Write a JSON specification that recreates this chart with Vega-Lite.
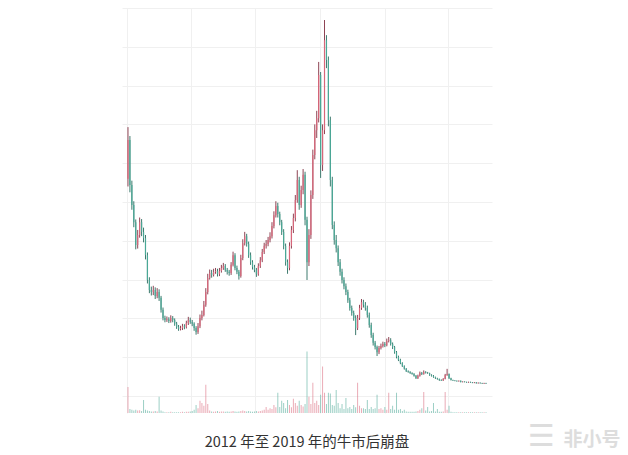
{
  "$schema": "https://vega.github.io/schema/vega-lite/v6.json",
  "width": 370,
  "height": 405,
  "autosize": {"type": "none"},
  "padding": {"left": 122, "top": 8, "right": 136, "bottom": 42},
  "background": "white",
  "config": {"view": {"stroke": null}, "font": "Noto Sans CJK SC"},
  "datasets": {
    "k": [
      {"w":1,"o":56.0,"h":69.3,"l":54.0,"c":66.0,"v":64},
      {"w":3,"o":66.0,"h":67.0,"l":52.5,"c":54.4,"v":10},
      {"w":5,"o":54.4,"h":55.5,"l":48.0,"c":49.2,"v":8},
      {"w":7,"o":49.2,"h":50.2,"l":43.5,"c":44.8,"v":6},
      {"w":9,"o":44.8,"h":45.5,"l":37.8,"c":38.9,"v":8},
      {"w":11,"o":38.9,"h":42.8,"l":38.0,"c":41.5,"v":6},
      {"w":13,"o":41.5,"h":46.0,"l":40.8,"c":44.8,"v":7},
      {"w":15,"o":44.8,"h":45.6,"l":41.2,"c":42.3,"v":5},
      {"w":17,"o":42.3,"h":43.4,"l":39.6,"c":40.7,"v":32},
      {"w":19,"o":40.7,"h":41.5,"l":35.2,"c":36.3,"v":8},
      {"w":21,"o":36.3,"h":37.0,"l":29.0,"c":29.9,"v":6},
      {"w":23,"o":29.9,"h":30.6,"l":26.5,"c":27.3,"v":5},
      {"w":25,"o":27.3,"h":28.2,"l":25.9,"c":26.8,"v":4},
      {"w":27,"o":26.8,"h":28.4,"l":26.0,"c":27.3,"v":4},
      {"w":29,"o":27.3,"h":28.0,"l":25.0,"c":25.8,"v":5},
      {"w":31,"o":25.8,"h":27.8,"l":25.2,"c":26.8,"v":4},
      {"w":33,"o":26.8,"h":27.5,"l":24.5,"c":25.3,"v":40},
      {"w":35,"o":25.3,"h":25.8,"l":21.5,"c":22.2,"v":6},
      {"w":37,"o":22.2,"h":22.8,"l":19.5,"c":20.1,"v":4},
      {"w":39,"o":20.1,"h":20.7,"l":19.0,"c":19.6,"v":2},
      {"w":41,"o":19.6,"h":20.5,"l":19.1,"c":19.8,"v":2},
      {"w":43,"o":19.8,"h":20.3,"l":18.8,"c":19.3,"v":2},
      {"w":45,"o":19.3,"h":20.8,"l":18.9,"c":20.1,"v":3},
      {"w":47,"o":20.1,"h":20.6,"l":19.0,"c":19.6,"v":2},
      {"w":49,"o":19.6,"h":20.0,"l":18.1,"c":18.6,"v":2},
      {"w":51,"o":18.6,"h":19.1,"l":17.3,"c":17.8,"v":2},
      {"w":53,"o":17.8,"h":18.3,"l":16.8,"c":17.3,"v":2},
      {"w":55,"o":17.3,"h":18.1,"l":16.9,"c":17.5,"v":2},
      {"w":57,"o":17.5,"h":18.6,"l":17.0,"c":18.0,"v":3},
      {"w":59,"o":18.0,"h":18.5,"l":17.2,"c":17.8,"v":2},
      {"w":61,"o":17.8,"h":19.4,"l":17.4,"c":18.8,"v":3},
      {"w":63,"o":18.8,"h":20.4,"l":18.3,"c":19.6,"v":3},
      {"w":65,"o":19.6,"h":20.2,"l":18.6,"c":19.1,"v":4},
      {"w":67,"o":19.1,"h":19.6,"l":18.0,"c":18.6,"v":5},
      {"w":69,"o":18.6,"h":19.0,"l":16.8,"c":17.5,"v":8},
      {"w":71,"o":17.5,"h":18.0,"l":15.8,"c":16.5,"v":20},
      {"w":73,"o":16.5,"h":18.8,"l":16.0,"c":18.0,"v":12},
      {"w":75,"o":18.0,"h":21.0,"l":17.5,"c":20.1,"v":30},
      {"w":77,"o":20.1,"h":22.0,"l":19.5,"c":20.9,"v":25},
      {"w":79,"o":20.9,"h":24.5,"l":20.5,"c":23.5,"v":18},
      {"w":81,"o":23.5,"h":27.8,"l":23.0,"c":26.8,"v":70},
      {"w":83,"o":26.8,"h":31.5,"l":26.2,"c":30.4,"v":22},
      {"w":85,"o":30.4,"h":32.6,"l":30.0,"c":31.7,"v":6},
      {"w":87,"o":31.7,"h":32.5,"l":30.5,"c":31.2,"v":4},
      {"w":89,"o":31.2,"h":32.8,"l":30.8,"c":32.0,"v":3},
      {"w":91,"o":32.0,"h":33.0,"l":31.5,"c":32.2,"v":4},
      {"w":93,"o":32.2,"h":32.8,"l":30.8,"c":31.4,"v":5},
      {"w":95,"o":31.4,"h":33.0,"l":30.9,"c":32.2,"v":3},
      {"w":97,"o":32.2,"h":33.8,"l":31.8,"c":33.0,"v":4},
      {"w":99,"o":33.0,"h":34.3,"l":32.5,"c":33.5,"v":4},
      {"w":101,"o":33.5,"h":34.0,"l":32.0,"c":32.5,"v":3},
      {"w":103,"o":32.5,"h":33.0,"l":31.3,"c":32.0,"v":4},
      {"w":105,"o":32.0,"h":32.5,"l":31.0,"c":31.7,"v":3},
      {"w":107,"o":31.7,"h":34.5,"l":31.2,"c":33.8,"v":4},
      {"w":109,"o":33.8,"h":37.2,"l":33.4,"c":36.3,"v":5},
      {"w":111,"o":36.3,"h":36.8,"l":32.4,"c":33.0,"v":4},
      {"w":113,"o":33.0,"h":33.6,"l":31.4,"c":32.0,"v":3},
      {"w":115,"o":32.0,"h":32.5,"l":30.0,"c":30.9,"v":4},
      {"w":117,"o":30.9,"h":36.4,"l":30.5,"c":35.6,"v":5},
      {"w":119,"o":35.6,"h":40.4,"l":35.0,"c":39.4,"v":6},
      {"w":121,"o":39.4,"h":42.3,"l":38.8,"c":41.2,"v":5},
      {"w":123,"o":41.2,"h":41.8,"l":38.5,"c":39.2,"v":4},
      {"w":125,"o":39.2,"h":39.8,"l":35.6,"c":36.3,"v":5},
      {"w":127,"o":36.3,"h":37.0,"l":33.8,"c":34.5,"v":4},
      {"w":129,"o":34.5,"h":35.0,"l":32.6,"c":33.2,"v":3},
      {"w":131,"o":33.2,"h":33.8,"l":31.9,"c":32.5,"v":4},
      {"w":133,"o":32.5,"h":33.0,"l":30.7,"c":31.4,"v":5},
      {"w":135,"o":31.4,"h":34.2,"l":31.0,"c":33.5,"v":4},
      {"w":137,"o":33.5,"h":35.8,"l":33.0,"c":35.0,"v":5},
      {"w":139,"o":35.0,"h":37.9,"l":34.5,"c":37.1,"v":6},
      {"w":141,"o":37.1,"h":39.5,"l":36.6,"c":38.7,"v":8},
      {"w":143,"o":38.7,"h":40.2,"l":38.0,"c":39.2,"v":15},
      {"w":145,"o":39.2,"h":41.0,"l":38.6,"c":40.2,"v":8},
      {"w":147,"o":40.2,"h":42.2,"l":39.6,"c":41.2,"v":12},
      {"w":149,"o":41.2,"h":44.8,"l":40.6,"c":43.8,"v":10},
      {"w":151,"o":43.8,"h":47.6,"l":43.2,"c":46.6,"v":20},
      {"w":153,"o":46.6,"h":50.2,"l":46.0,"c":49.0,"v":14},
      {"w":155,"o":49.0,"h":49.8,"l":46.0,"c":46.9,"v":50},
      {"w":157,"o":46.9,"h":47.5,"l":44.0,"c":44.8,"v":15},
      {"w":159,"o":44.8,"h":45.4,"l":41.5,"c":42.3,"v":30},
      {"w":161,"o":42.3,"h":43.0,"l":37.8,"c":38.7,"v":25},
      {"w":163,"o":38.7,"h":39.3,"l":33.6,"c":34.5,"v":12},
      {"w":165,"o":34.5,"h":35.2,"l":31.5,"c":33.0,"v":32},
      {"w":167,"o":33.0,"h":39.6,"l":32.4,"c":38.7,"v":20},
      {"w":169,"o":38.7,"h":43.8,"l":38.0,"c":42.8,"v":14},
      {"w":171,"o":42.8,"h":47.0,"l":42.0,"c":45.9,"v":35},
      {"w":173,"o":45.9,"h":51.8,"l":45.0,"c":50.5,"v":25},
      {"w":175,"o":50.5,"h":58.2,"l":49.8,"c":55.7,"v":18},
      {"w":177,"o":55.7,"h":56.5,"l":48.0,"c":49.2,"v":30},
      {"w":179,"o":49.2,"h":54.2,"l":48.5,"c":53.1,"v":20},
      {"w":181,"o":53.1,"h":58.5,"l":52.0,"c":57.0,"v":16},
      {"w":183,"o":57.0,"h":57.8,"l":44.0,"c":45.4,"v":22},
      {"w":185,"o":45.4,"h":46.2,"l":29.9,"c":34.5,"v":152},
      {"w":187,"o":34.5,"h":43.0,"l":33.5,"c":41.5,"v":40},
      {"w":189,"o":41.5,"h":53.0,"l":40.5,"c":51.8,"v":22},
      {"w":191,"o":51.8,"h":63.5,"l":50.8,"c":62.1,"v":75},
      {"w":193,"o":62.1,"h":70.0,"l":61.0,"c":68.5,"v":25},
      {"w":195,"o":68.5,"h":73.5,"l":66.5,"c":71.6,"v":30},
      {"w":197,"o":71.6,"h":86.1,"l":70.5,"c":82.7,"v":20},
      {"w":199,"o":82.7,"h":83.5,"l":56.2,"c":59.5,"v":45},
      {"w":201,"o":59.5,"h":70.0,"l":58.0,"c":68.5,"v":115},
      {"w":203,"o":68.5,"h":96.9,"l":67.5,"c":91.7,"v":50},
      {"w":205,"o":91.7,"h":93.0,"l":84.5,"c":86.6,"v":22},
      {"w":207,"o":86.6,"h":87.5,"l":69.5,"c":71.1,"v":50},
      {"w":209,"o":71.1,"h":72.0,"l":54.0,"c":55.7,"v":48},
      {"w":211,"o":55.7,"h":56.5,"l":43.0,"c":44.1,"v":20},
      {"w":213,"o":44.1,"h":45.0,"l":39.0,"c":40.2,"v":18},
      {"w":215,"o":40.2,"h":41.5,"l":37.0,"c":38.1,"v":57},
      {"w":217,"o":38.1,"h":38.8,"l":33.5,"c":34.5,"v":25},
      {"w":219,"o":34.5,"h":35.3,"l":31.0,"c":32.0,"v":12},
      {"w":221,"o":32.0,"h":32.8,"l":29.0,"c":29.9,"v":22},
      {"w":223,"o":29.9,"h":30.6,"l":27.5,"c":28.3,"v":10},
      {"w":225,"o":28.3,"h":29.0,"l":26.0,"c":26.8,"v":37},
      {"w":227,"o":26.8,"h":27.4,"l":24.0,"c":24.7,"v":12},
      {"w":229,"o":24.7,"h":25.3,"l":22.0,"c":22.7,"v":15},
      {"w":231,"o":22.7,"h":23.3,"l":20.7,"c":21.4,"v":10},
      {"w":233,"o":21.4,"h":22.0,"l":19.4,"c":20.1,"v":20},
      {"w":235,"o":20.1,"h":20.8,"l":15.7,"c":17.5,"v":14},
      {"w":237,"o":17.5,"h":20.9,"l":17.0,"c":20.1,"v":75},
      {"w":239,"o":20.1,"h":23.5,"l":19.6,"c":22.7,"v":18},
      {"w":241,"o":22.7,"h":25.0,"l":22.2,"c":24.2,"v":12},
      {"w":243,"o":24.2,"h":24.8,"l":22.8,"c":23.5,"v":12},
      {"w":245,"o":23.5,"h":24.2,"l":22.0,"c":22.7,"v":10},
      {"w":247,"o":22.7,"h":23.3,"l":20.2,"c":20.9,"v":32},
      {"w":249,"o":20.9,"h":21.5,"l":17.6,"c":18.3,"v":10},
      {"w":251,"o":18.3,"h":18.9,"l":15.0,"c":15.7,"v":15},
      {"w":253,"o":15.7,"h":16.3,"l":13.0,"c":13.7,"v":10},
      {"w":255,"o":13.7,"h":14.2,"l":12.0,"c":12.6,"v":12},
      {"w":257,"o":12.6,"h":13.0,"l":10.3,"c":11.3,"v":45},
      {"w":259,"o":11.3,"h":12.9,"l":10.8,"c":12.4,"v":10},
      {"w":261,"o":12.4,"h":13.5,"l":12.0,"c":12.9,"v":12},
      {"w":263,"o":12.9,"h":14.0,"l":12.5,"c":13.4,"v":8},
      {"w":265,"o":13.4,"h":13.9,"l":12.6,"c":13.1,"v":15},
      {"w":267,"o":13.1,"h":14.8,"l":12.8,"c":14.2,"v":8},
      {"w":269,"o":14.2,"h":15.2,"l":13.8,"c":14.4,"v":50},
      {"w":271,"o":14.4,"h":14.9,"l":13.0,"c":13.4,"v":10},
      {"w":273,"o":13.4,"h":13.8,"l":12.1,"c":12.6,"v":18},
      {"w":275,"o":12.6,"h":12.9,"l":10.9,"c":11.3,"v":8},
      {"w":277,"o":11.3,"h":11.6,"l":9.7,"c":10.1,"v":50},
      {"w":279,"o":10.1,"h":10.4,"l":9.0,"c":9.3,"v":8},
      {"w":281,"o":9.3,"h":9.6,"l":8.2,"c":8.5,"v":10},
      {"w":283,"o":8.5,"h":8.7,"l":7.5,"c":7.7,"v":5},
      {"w":285,"o":7.7,"h":7.9,"l":6.8,"c":7.0,"v":8},
      {"w":287,"o":7.0,"h":7.2,"l":6.2,"c":6.4,"v":4},
      {"w":289,"o":6.4,"h":6.6,"l":6.0,"c":6.2,"v":3},
      {"w":291,"o":6.2,"h":6.4,"l":5.7,"c":5.9,"v":3},
      {"w":293,"o":5.9,"h":6.1,"l":5.5,"c":5.7,"v":3},
      {"w":295,"o":5.7,"h":5.9,"l":5.0,"c":5.2,"v":3},
      {"w":297,"o":5.2,"h":5.4,"l":4.4,"c":4.6,"v":4},
      {"w":299,"o":4.6,"h":5.5,"l":4.4,"c":5.2,"v":5},
      {"w":301,"o":5.2,"h":6.3,"l":5.0,"c":5.9,"v":8},
      {"w":303,"o":5.9,"h":6.2,"l":5.4,"c":5.7,"v":12},
      {"w":305,"o":5.7,"h":6.6,"l":5.5,"c":6.2,"v":52},
      {"w":307,"o":6.2,"h":6.4,"l":5.8,"c":6.0,"v":6},
      {"w":309,"o":6.0,"h":6.2,"l":5.7,"c":5.9,"v":15},
      {"w":311,"o":5.9,"h":6.0,"l":5.2,"c":5.4,"v":4},
      {"w":313,"o":5.4,"h":5.6,"l":5.0,"c":5.2,"v":5},
      {"w":315,"o":5.2,"h":5.4,"l":4.7,"c":4.9,"v":25},
      {"w":317,"o":4.9,"h":5.0,"l":4.4,"c":4.6,"v":4},
      {"w":319,"o":4.6,"h":4.7,"l":4.2,"c":4.4,"v":10},
      {"w":321,"o":4.4,"h":4.5,"l":3.9,"c":4.1,"v":3},
      {"w":323,"o":4.1,"h":4.3,"l":3.9,"c":4.0,"v":3},
      {"w":325,"o":4.0,"h":4.6,"l":3.9,"c":4.4,"v":4},
      {"w":327,"o":4.4,"h":5.7,"l":4.3,"c":5.4,"v":52},
      {"w":329,"o":5.4,"h":7.0,"l":5.2,"c":5.7,"v":8},
      {"w":331,"o":5.7,"h":5.8,"l":4.4,"c":4.6,"v":18},
      {"w":333,"o":4.6,"h":4.7,"l":4.0,"c":4.1,"v":3},
      {"w":335,"o":4.1,"h":4.2,"l":3.9,"c":4.0,"v":2},
      {"w":337,"o":4.0,"h":4.1,"l":3.8,"c":3.9,"v":2},
      {"w":339,"o":3.9,"h":4.0,"l":3.7,"c":3.8,"v":2},
      {"w":341,"o":3.8,"h":4.0,"l":3.7,"c":3.9,"v":2},
      {"w":343,"o":3.9,"h":4.0,"l":3.5,"c":3.6,"v":2},
      {"w":345,"o":3.6,"h":3.8,"l":3.5,"c":3.7,"v":2},
      {"w":347,"o":3.7,"h":3.8,"l":3.5,"c":3.6,"v":2},
      {"w":349,"o":3.6,"h":3.7,"l":3.4,"c":3.5,"v":2},
      {"w":351,"o":3.5,"h":3.7,"l":3.4,"c":3.6,"v":2},
      {"w":353,"o":3.6,"h":3.7,"l":3.4,"c":3.5,"v":2},
      {"w":355,"o":3.5,"h":3.6,"l":3.3,"c":3.4,"v":2},
      {"w":357,"o":3.4,"h":3.6,"l":3.3,"c":3.5,"v":2},
      {"w":359,"o":3.5,"h":3.6,"l":3.2,"c":3.3,"v":2},
      {"w":361,"o":3.3,"h":3.5,"l":3.2,"c":3.4,"v":2},
      {"w":363,"o":3.4,"h":3.5,"l":3.2,"c":3.3,"v":2},
      {"w":365,"o":3.3,"h":3.4,"l":3.1,"c":3.2,"v":2},
      {"w":367,"o":3.2,"h":3.4,"l":3.1,"c":3.3,"v":2},
      {"w":369,"o":3.3,"h":3.4,"l":3.1,"c":3.2,"v":2}
    ]
  },
  "data": {"name": "k"},
  "encoding": {
    "x": {
      "field": "w",
      "type": "quantitative",
      "scale": {"domain": [0, 370], "nice": false, "zero": false},
      "axis": {"grid": true, "values": [0, 66, 132, 198, 265, 330], "labels": false, "ticks": false, "domain": false, "title": null, "gridColor": "#f0f0f0", "gridWidth": 1}
    },
    "color": {
      "condition": {"test": "datum.c >= datum.o", "value": "#d8667a"},
      "value": "#4aa896"
    }
  },
  "layer": [
    {
      "encoding": {
        "y": {
          "type": "quantitative",
          "scale": {"domain": [-4.38, 100], "nice": false, "zero": false},
          "axis": {"grid": true, "values": [0, 10, 20, 30, 40, 50, 60, 70, 80, 90, 100], "labels": false, "ticks": false, "domain": false, "title": null, "gridColor": "#f0f0f0", "gridWidth": 1}
        }
      },
      "layer": [
        {
          "mark": {"type": "rule", "strokeWidth": 1},
          "encoding": {
            "y": {"field": "l", "type": "quantitative"},
            "y2": {"field": "h"},
            "color": {
              "condition": {"test": "datum.c >= datum.o", "value": "#8e4454"},
              "value": "#3d7a6e"
            }
          }
        },
        {
          "mark": {"type": "bar", "orient": "vertical", "size": 1.2},
          "encoding": {
            "y": {"field": "o", "type": "quantitative"},
            "y2": {"field": "c"}
          }
        },
        {
          "data": {"values": [{"label": "2012 年至 2019 年的牛市后崩盘", "w": 185, "p": -13.1}]},
          "mark": {"type": "text", "fontSize": 14.5, "align": "center", "baseline": "alphabetic", "font": "Noto Sans CJK SC"},
          "encoding": {
            "y": {"field": "p", "type": "quantitative"},
            "text": {"field": "label"},
            "color": {"value": "#333333"}
          }
        },
        {
          "data": {"values": [{"label": "非小号", "w": 478, "p": -12.9}]},
          "mark": {"type": "text", "fontSize": 19, "fontWeight": "bold", "align": "center", "baseline": "alphabetic", "font": "Noto Sans CJK SC"},
          "encoding": {
            "y": {"field": "p", "type": "quantitative"},
            "text": {"field": "label"},
            "color": {"value": "#dddddd"}
          }
        },
        {
          "data": {"values": [{"label": "☰", "w": 426, "p": -12.9}]},
          "mark": {"type": "text", "fontSize": 30, "align": "center", "baseline": "alphabetic", "font": "DejaVu Sans"},
          "encoding": {
            "y": {"field": "p", "type": "quantitative"},
            "text": {"field": "label"},
            "color": {"value": "#dddddd"}
          }
        }
      ]
    },
    {
      "mark": {"type": "bar", "orient": "vertical", "size": 1, "opacity": 0.55},
      "encoding": {
        "y": {"field": "v", "type": "quantitative", "scale": {"domain": [0, 1000], "nice": false}, "axis": null}
      }
    }
  ],
  "resolve": {"scale": {"y": "independent"}}
}
